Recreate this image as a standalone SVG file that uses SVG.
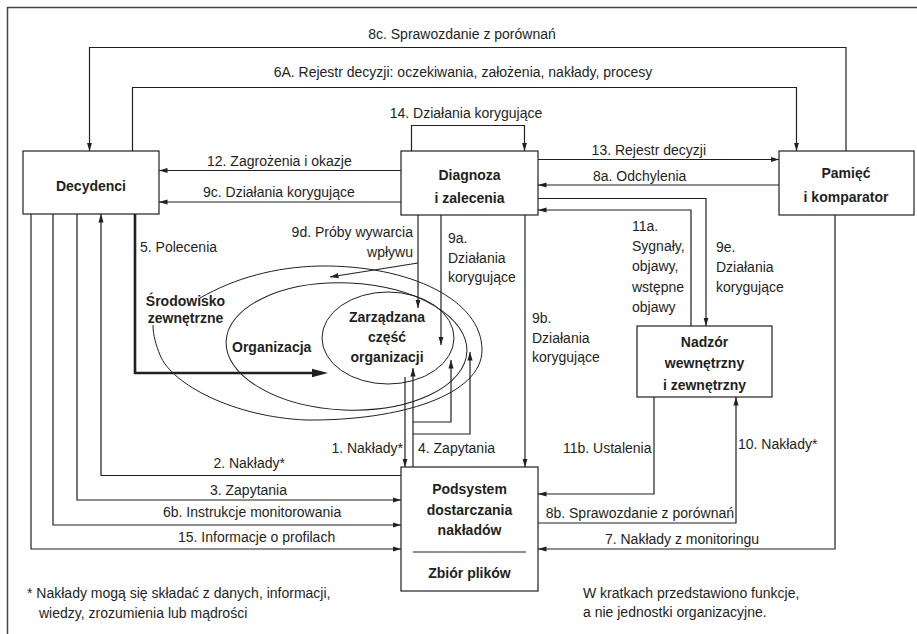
<svg xmlns="http://www.w3.org/2000/svg" width="917" height="634" viewBox="0 0 917 634">
<style>
.t{font-family:"Liberation Sans",Arial,sans-serif;font-size:14px;fill:#231f20}
.b{font-weight:bold}
.m{text-anchor:middle}
.e{text-anchor:end}
.box{fill:#fff;stroke:#231f20;stroke-width:1.2}
.ln{fill:none;stroke:#231f20;stroke-width:1.2}
.ar{marker-end:url(#ah)}
.el{fill:none;stroke:#231f20;stroke-width:1}
</style>
<defs>
<marker id="ah" markerWidth="9" markerHeight="7" refX="8.5" refY="3.5" orient="auto" markerUnits="userSpaceOnUse"><path d="M0,0.9 L8.5,3.5 L0,6.1 z" fill="#231f20"/></marker>
<marker id="ahT" markerWidth="18" markerHeight="10" refX="6" refY="5" orient="auto" markerUnits="userSpaceOnUse"><path d="M0,0.8 L16,5 L0,9.2 z" fill="#231f20"/></marker>
</defs>
<rect width="917" height="634" fill="#fff"/>
<path d="M7.5,634 V7.5 H917" fill="none" stroke="#444" stroke-width="1.5"/>

<g id="ellipses">
<path class="el" d="M200,298 C235,278 275,267 320,266 C410,265 482,300 482,350 C482,395 400,421 306,420 C235,417 172,385 160,355 C156,345 153,335 153,325"/>
<ellipse class="el" cx="346.5" cy="346.5" rx="120.5" ry="63.5" transform="rotate(2.5 346.5 346.5)"/>
<ellipse class="el" cx="388" cy="338" rx="66" ry="46"/>
<text class="t b m" x="185.5" y="306">Środowisko</text>
<text class="t b m" x="185.5" y="323">zewnętrzne</text>
<text class="t b" x="232" y="352">Organizacja</text>
<text class="t b m" x="387" y="322">Zarządzana</text>
<text class="t b m" x="387" y="342">część</text>
<text class="t b m" x="387" y="362">organizacji</text>
</g>

<g id="connectors">
<path class="ln ar" d="M846,151 V47.5 H89.5 V151"/>
<path class="ln ar" d="M132.5,151 V87.5 H796.5 V151"/>
<path class="ln ar" d="M411.5,151 V125.5 H524.5 V151"/>
<path class="ln ar" d="M401,170.5 H159"/>
<path class="ln ar" d="M401,202 H159"/>
<path class="ln ar" d="M538,159.5 H779"/>
<path class="ln ar" d="M779,185 H538"/>
<path class="ln ar" d="M538,198.5 H706 V326"/>
<path class="ln ar" d="M691,326 V210 H538"/>
<path class="ln ar" d="M418,215 V308"/>
<path class="ln ar" d="M418,263 L330,277"/>
<path class="ln ar" d="M441,215 V345"/>
<path class="ln ar" d="M525,215 V467"/>
<path fill="none" stroke="#231f20" stroke-width="2.6" marker-end="url(#ahT)" d="M135,214 V373 H318"/>
<path class="ln ar" d="M401,475.5 H101 V214"/>
<path class="ln ar" d="M77,214 V500 H401"/>
<path class="ln ar" d="M53,214 V525 H401"/>
<path class="ln ar" d="M31,214 V549 H401"/>
<path class="ln ar" d="M835,215 V549 H538"/>
<path class="ln ar" d="M538,523 H736 V397"/>
<path class="ln ar" d="M654,397 V494 H538"/>
<path class="ln ar" d="M405,377 V467"/>
<path class="ln ar" d="M413,467 V368"/>
<path class="ln ar" d="M413,422 H451 V360"/>
<path class="ln ar" d="M413,434 H470 V352"/>
</g>

<g id="labels">
<text class="t m" x="462" y="39">8c. Sprawozdanie z porównań</text>
<text class="t m" x="463" y="77">6A. Rejestr decyzji: oczekiwania, założenia, nakłady, procesy</text>
<text class="t m" x="466" y="118">14. Działania korygujące</text>
<text class="t" x="207" y="166">12. Zagrożenia i okazje</text>
<text class="t" x="203" y="197">9c. Działania korygujące</text>
<text class="t e" x="706" y="155">13. Rejestr decyzji</text>
<text class="t" x="593" y="181">8a. Odchylenia</text>
<text class="t e" x="413" y="237">9d. Próby wywarcia</text>
<text class="t e" x="413" y="257">wpływu</text>
<text class="t" x="448" y="243">9a.</text>
<text class="t" x="448" y="263">Działania</text>
<text class="t" x="448" y="282">korygujące</text>
<text class="t" x="532" y="323">9b.</text>
<text class="t" x="532" y="343">Działania</text>
<text class="t" x="532" y="362">korygujące</text>
<text class="t" x="632" y="231">11a.</text>
<text class="t" x="632" y="251">Sygnały,</text>
<text class="t" x="632" y="271">objawy,</text>
<text class="t" x="632" y="292">wstępne</text>
<text class="t" x="632" y="312">objawy</text>
<text class="t" x="716" y="252">9e.</text>
<text class="t" x="716" y="272">Działania</text>
<text class="t" x="716" y="292">korygujące</text>
<text class="t" x="140" y="252">5. Polecenia</text>
<text class="t e" x="285" y="468">2. Nakłady*</text>
<text class="t e" x="287" y="495">3. Zapytania</text>
<text class="t" x="163" y="517">6b. Instrukcje monitorowania</text>
<text class="t" x="178" y="542">15. Informacje o profilach</text>
<text class="t e" x="403" y="453">1. Nakłady*</text>
<text class="t" x="418" y="453">4. Zapytania</text>
<text class="t" x="563" y="453">11b. Ustalenia</text>
<text class="t" x="738" y="449">10. Nakłady*</text>
<text class="t e" x="734" y="518">8b. Sprawozdanie z porównań</text>
<text class="t e" x="759" y="544">7. Nakłady z monitoringu</text>
<text class="t" x="27" y="598">* Nakłady mogą się składać z danych, informacji,</text>
<text class="t" x="39" y="618">wiedzy, zrozumienia lub mądrości</text>
<text class="t" x="583" y="598">W kratkach przedstawiono funkcje,</text>
<text class="t" x="583" y="617">a nie jednostki organizacyjne.</text>
</g>

<g id="decydenci">
<rect class="box" x="23" y="151" width="136" height="63"/>
<text class="t b m" x="91" y="191">Decydenci</text>
</g>
<g id="diagnoza">
<rect class="box" x="401" y="151" width="137" height="64"/>
<text class="t b m" x="469.5" y="180">Diagnoza</text>
<text class="t b m" x="469.5" y="203">i zalecenia</text>
</g>
<g id="pamiec">
<rect class="box" x="779" y="151" width="135" height="64"/>
<text class="t b m" x="846" y="178">Pamięć</text>
<text class="t b m" x="846" y="202">i komparator</text>
</g>
<g id="nadzor">
<rect class="box" x="637" y="326" width="135" height="71"/>
<text class="t b m" x="704.5" y="347">Nadzór</text>
<text class="t b m" x="704.5" y="368">wewnętrzny</text>
<text class="t b m" x="704.5" y="390">i zewnętrzny</text>
</g>
<g id="podsystem">
<rect class="box" x="401" y="467" width="137" height="124"/>
<text class="t b m" x="469.5" y="494">Podsystem</text>
<text class="t b m" x="469.5" y="515">dostarczania</text>
<text class="t b m" x="469.5" y="535">nakładów</text>
<path d="M413,552 H526" stroke="#231f20" stroke-width="1.2"/>
<text class="t b m" x="469.5" y="578">Zbiór plików</text>
</g>
</svg>
